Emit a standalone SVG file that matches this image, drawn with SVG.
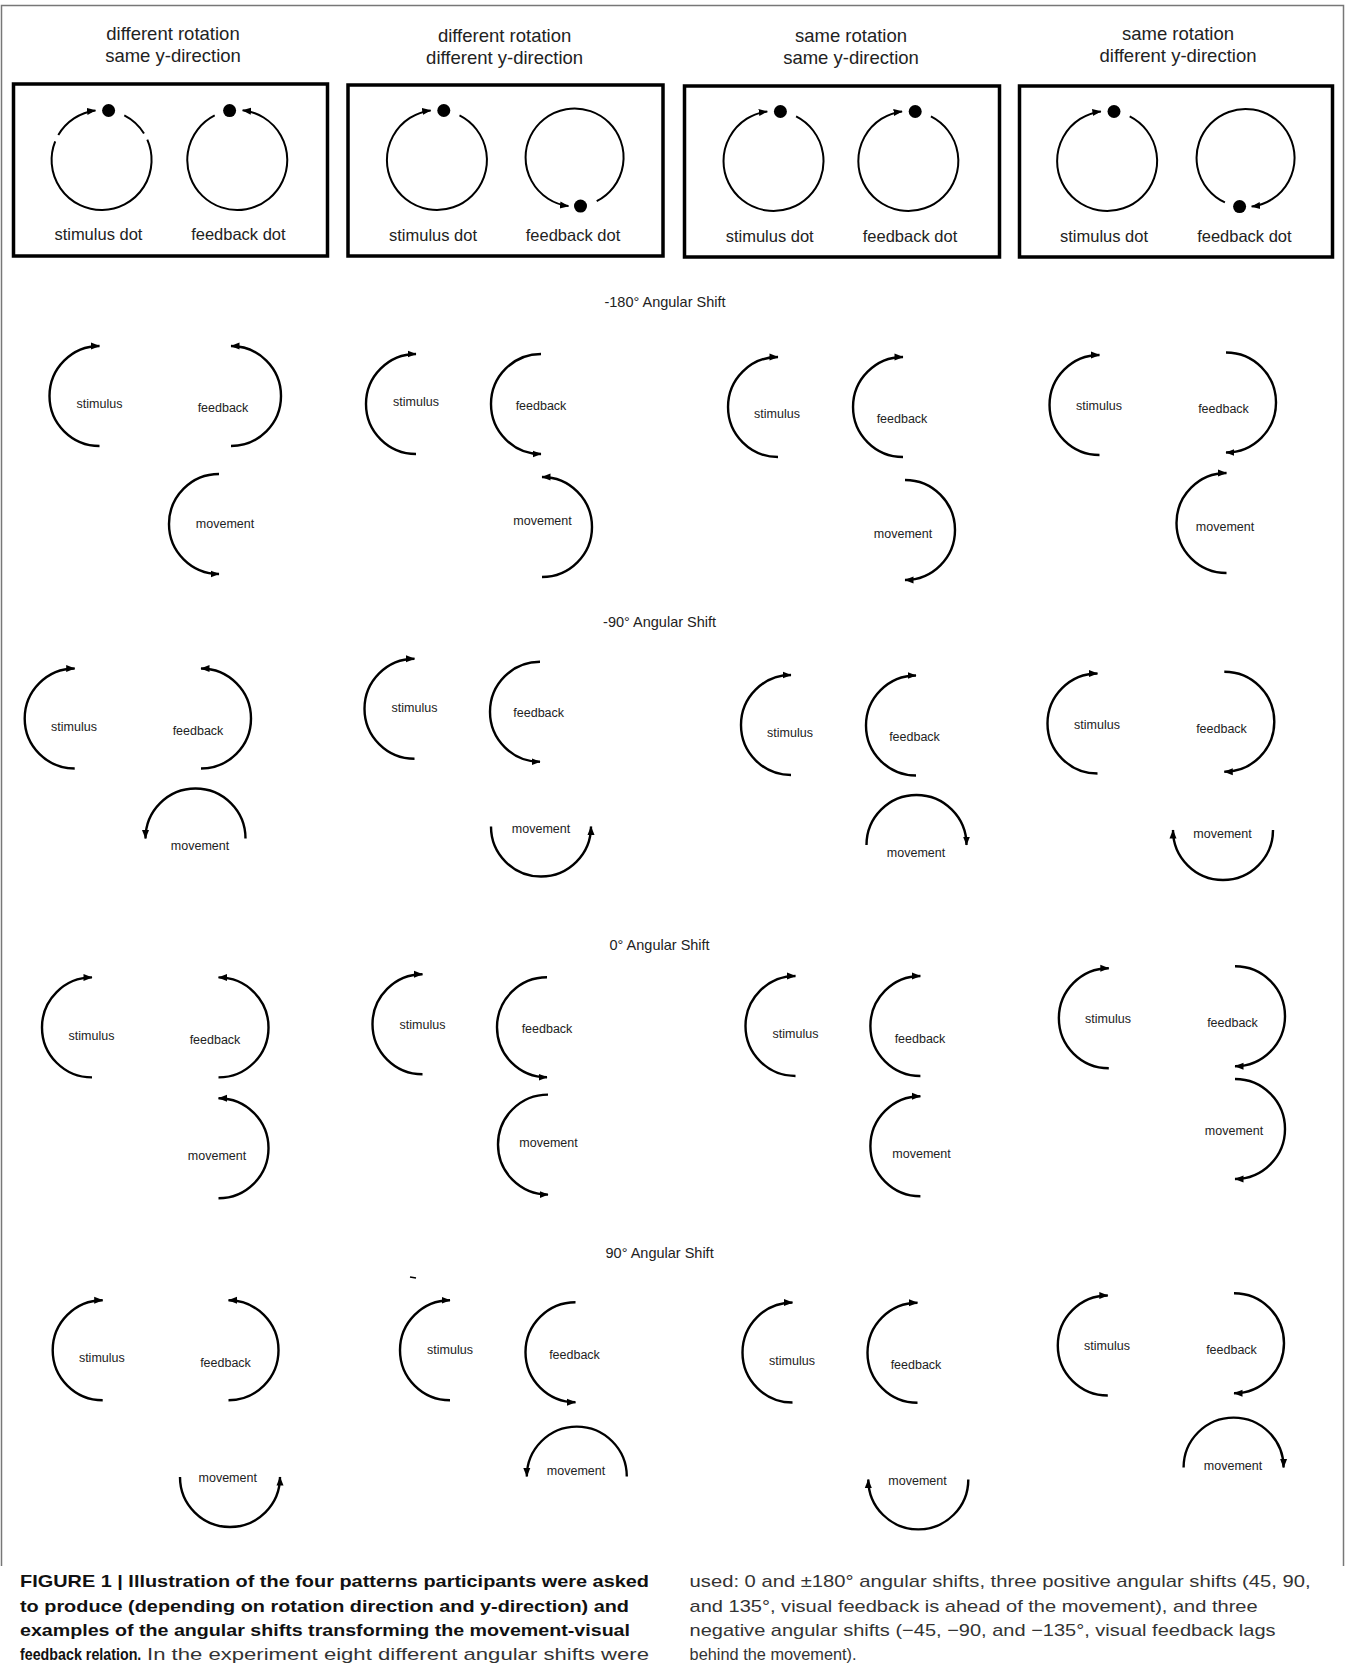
<svg xmlns="http://www.w3.org/2000/svg" width="1346" height="1676" viewBox="0 0 1346 1676">
<defs>
<marker id="ah" markerUnits="userSpaceOnUse" markerWidth="11" markerHeight="9" refX="8.5" refY="4.5" orient="auto"><path d="M0,1 L9,4.5 L0,8 z" fill="#000"/></marker>
</defs>
<style>
.arc{fill:none;stroke:#000;stroke-width:2.4;marker-end:url(#ah)}
.circ{fill:none;stroke:#000;stroke-width:2}
.circa{fill:none;stroke:#000;stroke-width:2;marker-end:url(#ah)}
.dot{fill:#000}
.box{fill:none;stroke:#000;stroke-width:3.5}
.t{font-family:"Liberation Sans",Arial,sans-serif;fill:#222;text-anchor:middle}
.ttl{font-size:18.5px}
.dl{font-size:16.5px}
.row{font-size:14.5px}
.lbl{font-size:12.5px}
.cap{font-family:"Liberation Sans",Arial,sans-serif;font-size:17px;fill:#333}
.capb{font-weight:bold;fill:#111}
.frame{fill:none;stroke:#777;stroke-width:1.5}
</style>
<rect width="1346" height="1676" fill="#fff"/>
<path class="frame" d="M1.5,1566 V5.5 H1343.5 V1566"/>

<!-- top pattern boxes -->
<g id="box1">
<text class="t ttl" x="173" y="39.5">different rotation</text>
<text class="t ttl" x="173" y="62">same y-direction</text>
<rect class="box" x="13.5" y="84" width="314" height="172"/>
<path class="circ" d="M124.3,115.4 A50,50 0 0 1 144,133.5"/>
<path class="circ" d="M147.3,139.7 A50,50 0 1 1 55.2,141.3"/>
<path class="circa" d="M58.3,135 A50,50 0 0 1 95.5,110.4"/>
<circle class="dot" cx="108.6" cy="110.5" r="6.5"/>
<path class="circa" d="M214.7,115.4 A50,50 0 1 0 242.6,110.3"/>
<circle class="dot" cx="229.6" cy="110.6" r="6.5"/>
<text class="t dl" x="98.4" y="240">stimulus dot</text>
<text class="t dl" x="238.4" y="240">feedback dot</text>
</g>
<g id="box2">
<text class="t ttl" x="504.6" y="41.5">different rotation</text>
<text class="t ttl" x="504.6" y="64">different y-direction</text>
<rect class="box" x="348" y="85" width="315" height="171"/>
<path class="circa" d="M459.5,115.4 A50,50 0 1 1 430.7,110.4"/>
<circle class="dot" cx="443.8" cy="110.5" r="6.5"/>
<path class="circa" d="M596.7,201.2 A49,49 0 1 0 568.5,206.1"/>
<circle class="dot" cx="580.5" cy="206.1" r="6.5"/>
<text class="t dl" x="433" y="241">stimulus dot</text>
<text class="t dl" x="573" y="241">feedback dot</text>
</g>
<g id="box3">
<text class="t ttl" x="851" y="41.5">same rotation</text>
<text class="t ttl" x="851" y="64">same y-direction</text>
<rect class="box" x="684.5" y="86" width="315" height="171"/>
<path class="circa" d="M796.1,116.4 A50,50 0 1 1 767.3,111.4"/>
<circle class="dot" cx="780.4" cy="111.5" r="6.5"/>
<path class="circa" d="M930.9,116.4 A50,50 0 1 1 902.1,111.4"/>
<circle class="dot" cx="915.2" cy="111.5" r="6.5"/>
<text class="t dl" x="769.7" y="242">stimulus dot</text>
<text class="t dl" x="910" y="242">feedback dot</text>
</g>
<g id="box4">
<text class="t ttl" x="1178" y="39.5">same rotation</text>
<text class="t ttl" x="1178" y="62">different y-direction</text>
<rect class="box" x="1019.5" y="86" width="313" height="171"/>
<path class="circa" d="M1129.7,116.4 A50,50 0 1 1 1100.9,111.4"/>
<circle class="dot" cx="1114" cy="111.5" r="6.5"/>
<path class="circa" d="M1224.9,202.4 A49,49 0 1 1 1251.6,206.6"/>
<circle class="dot" cx="1239.6" cy="206.6" r="6.5"/>
<text class="t dl" x="1104" y="242">stimulus dot</text>
<text class="t dl" x="1244.4" y="242">feedback dot</text>
</g>

<!-- row titles -->
<g id="row-titles">
<text class="t row" x="665" y="306.5">-180° Angular Shift</text>
<text class="t row" x="659.6" y="627">-90° Angular Shift</text>
<text class="t row" x="659.6" y="950">0° Angular Shift</text>
<text class="t row" x="659.6" y="1258">90° Angular Shift</text>
</g>

<!-- -180 row -->
<g id="m180-p1">
<g id="m180-p1-stim"><path class="arc" d="M99.5,446 A50,50 0 0 1 99.5,346"/><text class="t lbl" x="99.5" y="407.5">stimulus</text></g>
<g id="m180-p1-fb"><path class="arc" d="M231,446 A50,50 0 0 0 231,346"/><text class="t lbl" x="223" y="412">feedback</text></g>
<g id="m180-p1-mov"><path class="arc" d="M219,474 A50,50 0 0 0 219,574"/><text class="t lbl" x="225" y="527.5">movement</text></g>
</g>
<g id="m180-p2">
<g id="m180-p2-stim"><path class="arc" d="M416,454 A50,50 0 0 1 416,354"/><text class="t lbl" x="416" y="405.5">stimulus</text></g>
<g id="m180-p2-fb"><path class="arc" d="M541,354 A50,50 0 0 0 541,454"/><text class="t lbl" x="541" y="410">feedback</text></g>
<g id="m180-p2-mov"><path class="arc" d="M542,577 A50,50 0 0 0 542,477"/><text class="t lbl" x="542.5" y="525">movement</text></g>
</g>
<g id="m180-p3">
<g id="m180-p3-stim"><path class="arc" d="M778,457 A50,50 0 0 1 778,357"/><text class="t lbl" x="777" y="418">stimulus</text></g>
<g id="m180-p3-fb"><path class="arc" d="M903,457 A50,50 0 0 1 903,357"/><text class="t lbl" x="902" y="422.5">feedback</text></g>
<g id="m180-p3-mov"><path class="arc" d="M905,480 A50,50 0 0 1 905,580"/><text class="t lbl" x="903" y="538">movement</text></g>
</g>
<g id="m180-p4">
<g id="m180-p4-stim"><path class="arc" d="M1099.5,455 A50,50 0 0 1 1099.5,355"/><text class="t lbl" x="1099" y="409.5">stimulus</text></g>
<g id="m180-p4-fb"><path class="arc" d="M1226,352.5 A50,50 0 0 1 1226,452.5"/><text class="t lbl" x="1223.5" y="413">feedback</text></g>
<g id="m180-p4-mov"><path class="arc" d="M1226.5,573 A50,50 0 0 1 1226.5,473"/><text class="t lbl" x="1225" y="531">movement</text></g>
</g>

<!-- -90 row -->
<g id="m90-p1">
<g id="m90-p1-stim"><path class="arc" d="M74.7,768.5 A50,50 0 0 1 74.7,668.5"/><text class="t lbl" x="74" y="730.5">stimulus</text></g>
<g id="m90-p1-fb"><path class="arc" d="M201,768.5 A50,50 0 0 0 201,668.5"/><text class="t lbl" x="198" y="734.5">feedback</text></g>
<g id="m90-p1-mov"><path class="arc" d="M245.5,838.5 A50,50 0 0 0 145.5,838.5"/><text class="t lbl" x="200" y="850">movement</text></g>
</g>
<g id="m90-p2">
<g id="m90-p2-stim"><path class="arc" d="M414.5,758.7 A50,50 0 0 1 414.5,658.7"/><text class="t lbl" x="414.5" y="712">stimulus</text></g>
<g id="m90-p2-fb"><path class="arc" d="M540,661.8 A50,50 0 0 0 540,761.8"/><text class="t lbl" x="538.7" y="716.5">feedback</text></g>
<g id="m90-p2-mov"><path class="arc" d="M491,826.5 A50,50 0 0 0 591,826.5"/><text class="t lbl" x="541" y="833">movement</text></g>
</g>
<g id="m90-p3">
<g id="m90-p3-stim"><path class="arc" d="M791,775 A50,50 0 0 1 791,675"/><text class="t lbl" x="790" y="737">stimulus</text></g>
<g id="m90-p3-fb"><path class="arc" d="M916,775.5 A50,50 0 0 1 916,675.5"/><text class="t lbl" x="914.5" y="741">feedback</text></g>
<g id="m90-p3-mov"><path class="arc" d="M866.5,845 A50,50 0 0 1 966.5,845"/><text class="t lbl" x="916" y="856.5">movement</text></g>
</g>
<g id="m90-p4">
<g id="m90-p4-stim"><path class="arc" d="M1097.5,773.5 A50,50 0 0 1 1097.5,673.5"/><text class="t lbl" x="1097" y="728.5">stimulus</text></g>
<g id="m90-p4-fb"><path class="arc" d="M1224.3,671.8 A50,50 0 0 1 1224.3,771.8"/><text class="t lbl" x="1221.5" y="732.5">feedback</text></g>
<g id="m90-p4-mov"><path class="arc" d="M1273,830 A50,50 0 0 1 1173,830"/><text class="t lbl" x="1222.5" y="838">movement</text></g>
</g>

<!-- 0 row -->
<g id="z-p1">
<g id="z-p1-stim"><path class="arc" d="M92,1077.4 A50,50 0 0 1 92,977.4"/><text class="t lbl" x="91.5" y="1039.5">stimulus</text></g>
<g id="z-p1-fb"><path class="arc" d="M218.5,1077.4 A50,50 0 0 0 218.5,977.4"/><text class="t lbl" x="215" y="1043.5">feedback</text></g>
<g id="z-p1-mov"><path class="arc" d="M218.5,1198.2 A50,50 0 0 0 218.5,1098.2"/><text class="t lbl" x="217" y="1159.5">movement</text></g>
</g>
<g id="z-p2">
<g id="z-p2-stim"><path class="arc" d="M422.5,1074.2 A50,50 0 0 1 422.5,974.2"/><text class="t lbl" x="422.5" y="1028.5">stimulus</text></g>
<g id="z-p2-fb"><path class="arc" d="M547,977.3 A50,50 0 0 0 547,1077.3"/><text class="t lbl" x="547" y="1033">feedback</text></g>
<g id="z-p2-mov"><path class="arc" d="M548,1094.6 A50,50 0 0 0 548,1194.6"/><text class="t lbl" x="548.5" y="1146.5">movement</text></g>
</g>
<g id="z-p3">
<g id="z-p3-stim"><path class="arc" d="M795.5,1076 A50,50 0 0 1 795.5,976"/><text class="t lbl" x="795.5" y="1038">stimulus</text></g>
<g id="z-p3-fb"><path class="arc" d="M920.4,1076 A50,50 0 0 1 920.4,976"/><text class="t lbl" x="920" y="1042.5">feedback</text></g>
<g id="z-p3-mov"><path class="arc" d="M920.4,1196.3 A50,50 0 0 1 920.4,1096.3"/><text class="t lbl" x="921.5" y="1158">movement</text></g>
</g>
<g id="z-p4">
<g id="z-p4-stim"><path class="arc" d="M1108.8,1068.2 A50,50 0 0 1 1108.8,968.2"/><text class="t lbl" x="1108" y="1022.5">stimulus</text></g>
<g id="z-p4-fb"><path class="arc" d="M1235,966.2 A50,50 0 0 1 1235,1066.2"/><text class="t lbl" x="1232.5" y="1026.5">feedback</text></g>
<g id="z-p4-mov"><path class="arc" d="M1235,1079 A50,50 0 0 1 1235,1179"/><text class="t lbl" x="1234" y="1135">movement</text></g>
</g>

<!-- 90 row -->
<g id="p90-p1">
<g id="p90-p1-stim"><path class="arc" d="M102.7,1400.3 A50,50 0 0 1 102.7,1300.3"/><text class="t lbl" x="101.8" y="1362.3">stimulus</text></g>
<g id="p90-p1-fb"><path class="arc" d="M228.5,1400.3 A50,50 0 0 0 228.5,1300.3"/><text class="t lbl" x="225.5" y="1366.5">feedback</text></g>
<g id="p90-p1-mov"><path class="arc" d="M180,1477 A50,50 0 0 0 280,1477"/><text class="t lbl" x="227.7" y="1482">movement</text></g>
</g>
<g id="p90-p2">
<path d="M410,1277 L416,1278" stroke="#000" stroke-width="1.5"/>
<g id="p90-p2-stim"><path class="arc" d="M450,1400.3 A50,50 0 0 1 450,1300.3"/><text class="t lbl" x="450" y="1354.3">stimulus</text></g>
<g id="p90-p2-fb"><path class="arc" d="M575.5,1302.2 A50,50 0 0 0 575.5,1402.2"/><text class="t lbl" x="574.5" y="1358.5">feedback</text></g>
<g id="p90-p2-mov"><path class="arc" d="M626.8,1476.6 A50,50 0 0 0 526.8,1476.6"/><text class="t lbl" x="576" y="1474.5">movement</text></g>
</g>
<g id="p90-p3">
<g id="p90-p3-stim"><path class="arc" d="M792.5,1402.5 A50,50 0 0 1 792.5,1302.5"/><text class="t lbl" x="792" y="1364.5">stimulus</text></g>
<g id="p90-p3-fb"><path class="arc" d="M917.5,1402.8 A50,50 0 0 1 917.5,1302.8"/><text class="t lbl" x="916" y="1368.5">feedback</text></g>
<g id="p90-p3-mov"><path class="arc" d="M968.3,1479.4 A50,50 0 0 1 868.3,1479.4"/><text class="t lbl" x="917.5" y="1485">movement</text></g>
</g>
<g id="p90-p4">
<g id="p90-p4-stim"><path class="arc" d="M1107.8,1395.5 A50,50 0 0 1 1107.8,1295.5"/><text class="t lbl" x="1107" y="1350">stimulus</text></g>
<g id="p90-p4-fb"><path class="arc" d="M1234,1293.2 A50,50 0 0 1 1234,1393.2"/><text class="t lbl" x="1231.5" y="1353.7">feedback</text></g>
<g id="p90-p4-mov"><path class="arc" d="M1183.6,1467.6 A50,50 0 0 1 1283.6,1467.6"/><text class="t lbl" x="1233" y="1469.5">movement</text></g>
</g>

<g id="connectors"></g>

<!-- caption -->
<g id="caption">
<text class="cap capb" x="20" y="1587" textLength="629" lengthAdjust="spacingAndGlyphs">FIGURE 1 | Illustration of the four patterns participants were asked</text>
<text class="cap capb" x="20" y="1611.6" textLength="609" lengthAdjust="spacingAndGlyphs">to produce (depending on rotation direction and y-direction) and</text>
<text class="cap capb" x="20" y="1636" textLength="610" lengthAdjust="spacingAndGlyphs">examples of the angular shifts transforming the movement-visual</text>
<text class="cap capb" transform="translate(20,1660) scale(0.84,1)" x="0" y="0">feedback relation.</text>
<text class="cap" x="147" y="1660" textLength="502" lengthAdjust="spacingAndGlyphs">In the experiment eight different angular shifts were</text>
<text class="cap" x="689.6" y="1587" textLength="621" lengthAdjust="spacingAndGlyphs">used: 0 and ±180° angular shifts, three positive angular shifts (45, 90,</text>
<text class="cap" x="689.6" y="1611.6" textLength="568" lengthAdjust="spacingAndGlyphs">and 135°, visual feedback is ahead of the movement), and three</text>
<text class="cap" x="689.6" y="1636" textLength="586" lengthAdjust="spacingAndGlyphs">negative angular shifts (−45, −90, and −135°, visual feedback lags</text>
<text class="cap" x="689.6" y="1660" textLength="167" lengthAdjust="spacingAndGlyphs">behind the movement).</text>
</g>
</svg>
